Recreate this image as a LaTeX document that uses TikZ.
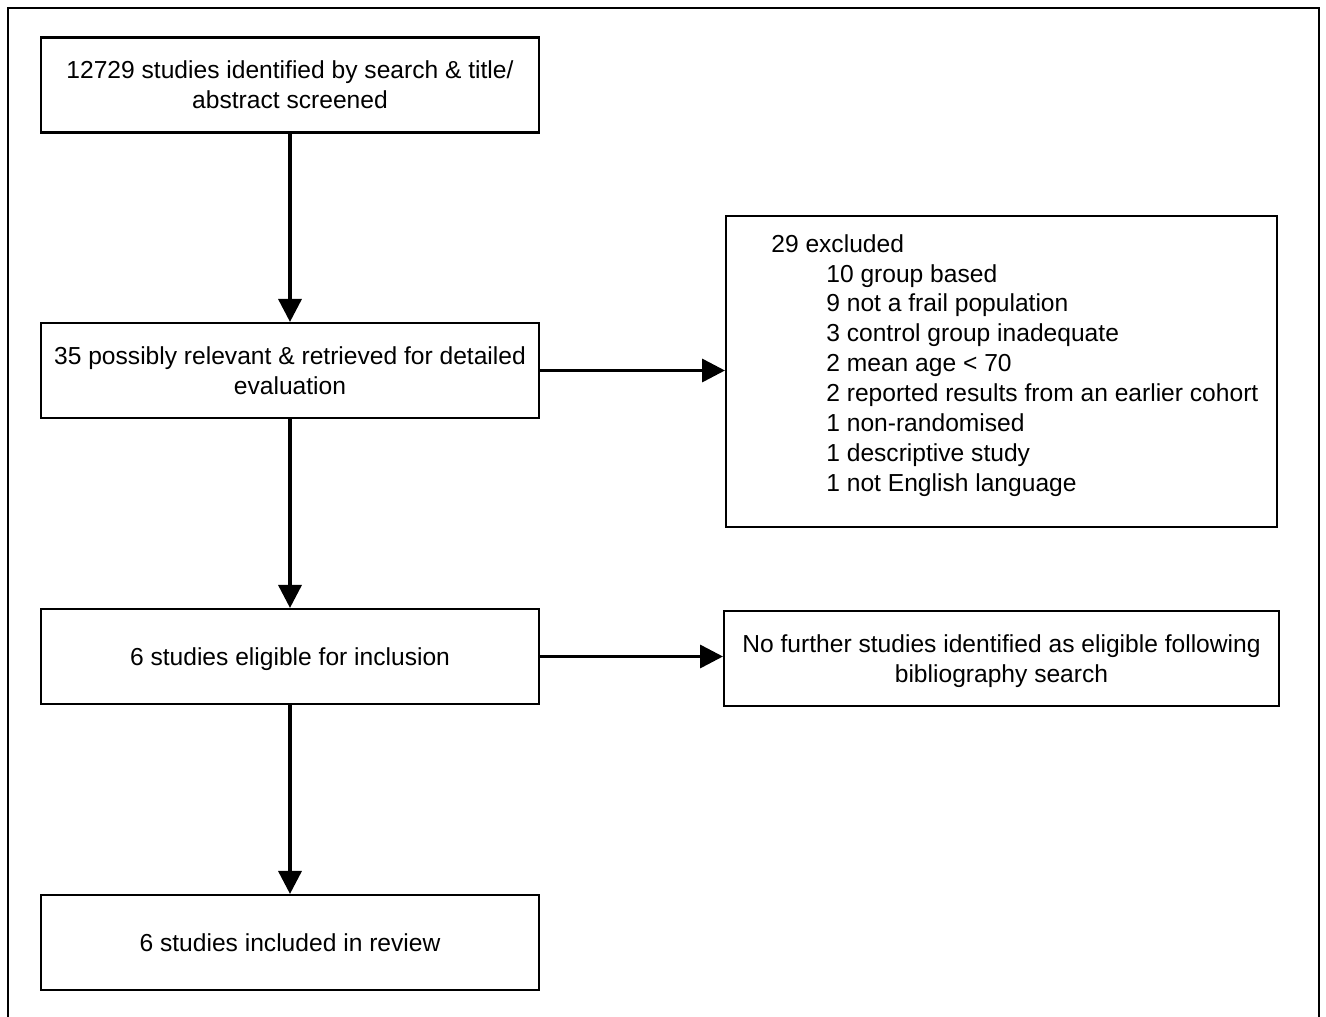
\documentclass[tikz,border=0pt]{standalone}
\usepackage{fontspec}
\setmainfont{Liberation Sans}
\usetikzlibrary{arrows.meta}

\begin{document}
\begin{tikzpicture}[x=0.02cm, y=-0.02cm, font=\fontsize{14}{17}\selectfont,
    stagebox/.style={draw, line width=1.2pt, minimum width=9.96cm, minimum height=1.9cm, align=center, inner sep=0pt, text depth=0pt},
    sidebox/.style={draw, line width=1.2pt, align=center, inner sep=0pt, text depth=0pt},
    flow/.style={-{Triangle[length=0.46cm, width=0.46cm]}, line width=2pt}]
    \useasboundingbox (0,0) rectangle (1326,1017);

    % Outer frame (open at the bottom)
    \draw[line width=1.4pt] (8,1017) -- (8,8) -- (1319,8) -- (1319,1017);

    % Main column
    \node[stagebox] (search) at (290,85) {12729 studies identified by search \& title/\\abstract screened};
    \node[stagebox] (retrieved) at (290,370.5) {35 possibly relevant \& retrieved for detailed\\evaluation};
    \node[stagebox] (eligible) at (290,656.5) {6 studies eligible for inclusion};
    \node[stagebox] (included) at (290,942.5) {6 studies included in review};

    % Side boxes
    \node[sidebox, minimum width=11.02cm, minimum height=6.22cm] (excluded) at (1001.5,371.5) {};
    \node[anchor=north west, align=left, inner sep=0pt] (reasons) at (771,234) {29 excluded\\
        \hspace*{1.1cm}10 group based\\
        \hspace*{1.1cm}9 not a frail population\\
        \hspace*{1.1cm}3 control group inadequate\\
        \hspace*{1.1cm}2 mean age < 70\\
        \hspace*{1.1cm}2 reported results from an earlier cohort\\
        \hspace*{1.1cm}1 non-randomised\\
        \hspace*{1.1cm}1 descriptive study\\
        \hspace*{1.1cm}1 not English language};
    \node[sidebox, minimum width=11.1cm, minimum height=1.9cm] (nofurther) at (1001.5,658.5) {No further studies identified as eligible following\\bibliography search};

    % Connections down the column
    \draw[flow] (search) -- (retrieved);
    \draw[flow] (retrieved) -- (eligible);
    \draw[flow] (eligible) -- (included);

    % Connections to the side
    \draw[flow] (retrieved.east) -- (retrieved.east -| excluded.west);
    \draw[flow] (eligible.east) -- (eligible.east -| nofurther.west);
\end{tikzpicture}
\end{document}
